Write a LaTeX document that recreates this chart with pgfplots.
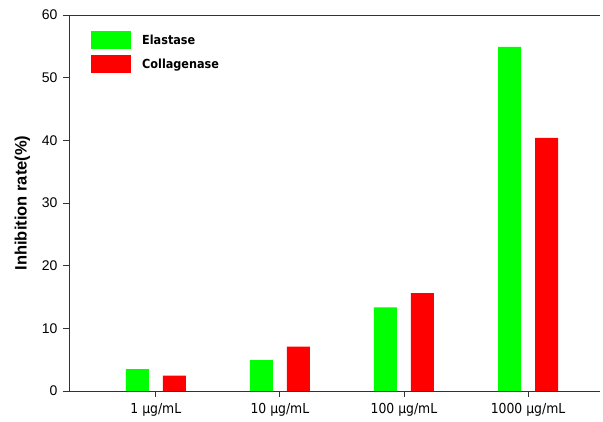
\documentclass[border=0pt]{standalone}
\usepackage{pgfplots}
\pgfplotsset{compat=1.18}
\usepackage{fontspec}
\setmainfont{Liberation Sans}
\newfontfamily\tahoma{DejaVu Sans Condensed}
\definecolor{elgreen}{RGB}{0,255,0}
\definecolor{colred}{RGB}{255,0,0}
\begin{document}
\begin{tikzpicture}
\begin{axis}[
    name=main,
    scale only axis,
    width=531pt, height=376pt,
    ybar=14pt, bar width=23pt,
    xmin=-0.70, xmax=3.58,
    ymin=0, ymax=60,
    xtick={0,1,2,3},
    xticklabels={1 µg/mL,10 µg/mL,100 µg/mL,1000 µg/mL},
    ytick={0,10,20,30,40,50,60},
    axis x line*=bottom, axis y line*=left,
    axis line style={black!80, line width=0.9pt},
    x axis line style={-}, y axis line style={-},
    tick align=outside,
    tick style={black!80, line width=0.9pt},
    major tick length=6pt,
    /pgf/number format/assume math mode=true,
    yticklabel style={font=\fontsize{14}{16}\selectfont, xshift=-2pt},
    xticklabel style={font=\tahoma\fontsize{13.8}{16}\selectfont, yshift=-3pt},
    ylabel={\bfseries Inhibition rate(\%)},
    ylabel style={font=\fontsize{16.5}{19}\selectfont, yshift=5pt},
    legend style={draw=none, fill=none, at={(rel axis cs:0.0414,0.957)}, anchor=north west,
        inner sep=0pt, row sep=6pt, font=\tahoma\bfseries\fontsize{12.5}{15}\selectfont,
        cells={anchor=west}},
    legend image code/.code={\fill[#1] (0pt,-9pt) rectangle (40pt,9pt);},
    legend cell align=left,
]
\addplot[fill=elgreen, draw=none] coordinates {(0,3.5) (1,4.94) (2,13.35) (3,54.9)};
\addplot[fill=colred, draw=none] coordinates {(0,2.45) (1,7.1) (2,15.6) (3,40.4)};
\legend{\hspace{9pt}Elastase,\hspace{9pt}Collagenase}
\draw[black!80, line width=0.9pt] (rel axis cs:0,1) -- (rel axis cs:1,1);
\end{axis}
\path ([xshift=-69pt,yshift=-30pt]main.south west) rectangle ([xshift=3pt,yshift=15pt]main.north east);
\end{tikzpicture}
\end{document}
